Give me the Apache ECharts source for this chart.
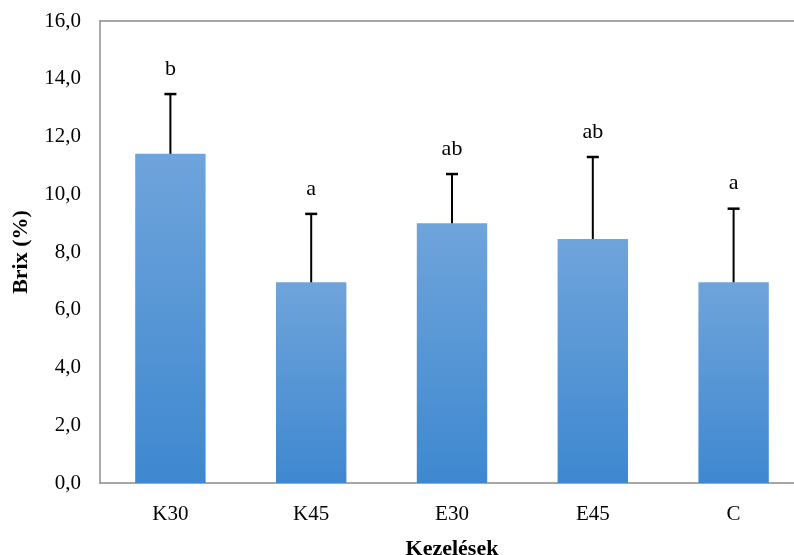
<!DOCTYPE html>
<html><head><meta charset="utf-8">
<script src="https://cdn.jsdelivr.net/npm/echarts@6/dist/echarts.min.js"></script>
<style>html,body{margin:0;padding:0;background:#fff}#c{width:794px;height:555px}</style>
</head><body><div id="c"></div>
<script>
const categories = ['K30', 'K45', 'E30', 'E45', 'C'];
const means = [11.4, 6.95, 9.0, 8.45, 6.95];
const sds = [2.07, 2.37, 1.7, 2.84, 2.55];
const letters = ['b', 'a', 'ab', 'ab', 'a'];
const yTicks = { min: 0, max: 16, interval: 2 };

const font = 'Liberation Serif, Times New Roman, serif';
const chart = echarts.init(document.getElementById('c'), null, { renderer: 'canvas' });
chart.setOption({
  animation: false,
  grid: { left: 100, top: 21, width: 704, height: 462, show: false,
    outerBoundsMode: 'none', containLabel: false },
  xAxis: [{
    type: 'category', data: categories,
    axisLine: { lineStyle: { color: '#8c8c8c', width: 1.5 } },
    axisTick: { show: false },
    axisLabel: { color: '#000', fontFamily: font, fontSize: 21, margin: 21 },
    name: 'Kezelések', nameLocation: 'middle', nameGap: 55,
    nameTextStyle: { color: '#000', fontFamily: font, fontSize: 22, fontWeight: 'bold' }
  }, {
    type: 'category', data: categories, position: 'top',
    axisLine: { show: true, lineStyle: { color: '#8c8c8c', width: 1.5 } },
    axisTick: { show: false }, axisLabel: { show: false }, splitLine: { show: false }
  }],
  yAxis: {
    type: 'value', min: yTicks.min, max: yTicks.max, interval: yTicks.interval,
    splitLine: { show: false },
    axisLine: { show: true, lineStyle: { color: '#8c8c8c', width: 1.5 } },
    axisTick: { show: false },
    axisLabel: { color: '#000', fontFamily: font, fontSize: 21, margin: 19,
      formatter: v => v.toFixed(1).replace('.', ',') },
    name: 'Brix (%)', nameLocation: 'middle', nameGap: 68, nameRotate: 90,
    nameTextStyle: { color: '#000', fontFamily: font, fontSize: 22, fontWeight: 'bold' }
  },
  series: [
    {
      type: 'bar', data: means, barWidth: '50%',
      itemStyle: { color: new echarts.graphic.LinearGradient(0, 0, 0, 1, [
        { offset: 0, color: '#6fa4db' }, { offset: 1, color: '#3e88d0' }]) }
    },
    {
      type: 'custom',
      data: means.map((m, i) => [i, m, m + sds[i], letters[i]]),
      renderItem: function (params, api) {
        const x = api.value(0);
        const base = api.coord([x, api.value(1)]);
        const top = api.coord([x, api.value(2)]);
        const cap = 6;
        return {
          type: 'group',
          children: [
            { type: 'line', shape: { x1: base[0], y1: base[1], x2: top[0], y2: top[1] }, style: { stroke: '#000', lineWidth: 2 } },
            { type: 'line', shape: { x1: top[0] - cap, y1: top[1], x2: top[0] + cap, y2: top[1] }, style: { stroke: '#000', lineWidth: 2.5 } },
            { type: 'text', x: top[0], y: top[1] - 25, style: { text: api.value(3), font: '22px ' + font, fill: '#000', align: 'center', verticalAlign: 'middle' } }
          ]
        };
      },
      z: 10
    }
  ]
});
</script></body></html>
